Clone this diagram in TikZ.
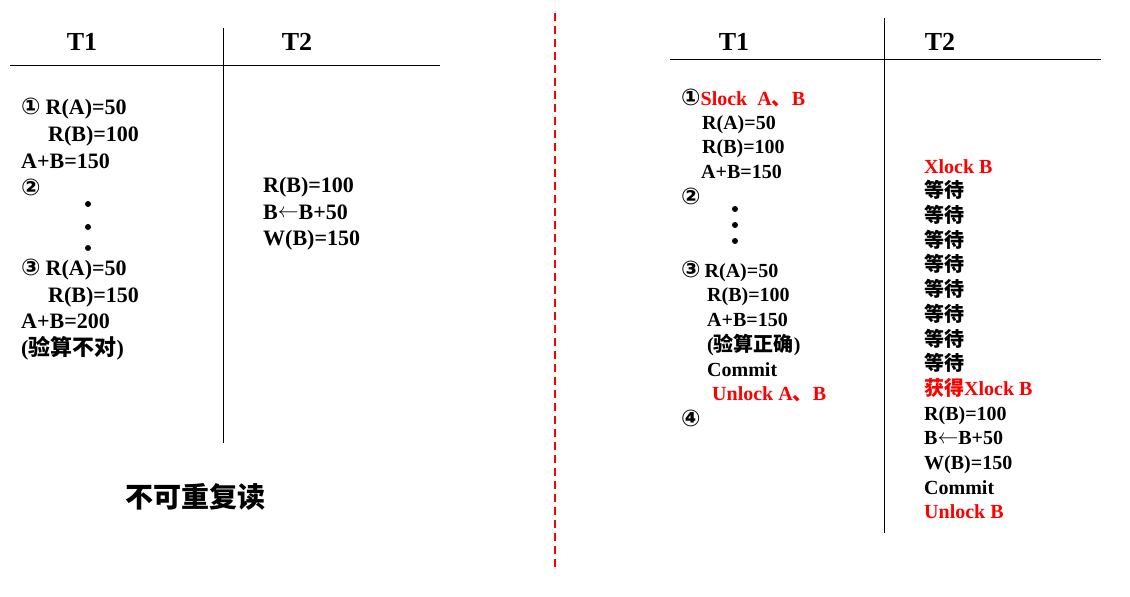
\documentclass[tikz,border=0pt]{standalone}
\usepackage{fontspec}
\setmainfont{Liberation Serif}
\newfontfamily\cjk{Noto Sans CJK SC}
\newfontfamily\sym{DejaVu Sans}
\newcommand{\cnum}[1]{{\sym\fontsize{23}{23}\selectfont #1}}
\newcommand{\larr}{\raisebox{0.1ex}{$\leftarrow$}}
\begin{document}
\begin{tikzpicture}[x=1pt,y=-1pt,
  hd/.style={anchor=base,inner sep=0,font=\fontsize{26}{26}\selectfont\bfseries},
  tl/.style={anchor=base west,inner sep=0,font=\fontsize{22}{22}\selectfont\bfseries},
  tr/.style={anchor=base west,inner sep=0,font=\fontsize{20}{20}\selectfont\bfseries},
  rd/.style={text=red},
  dotc/.style={circle,fill=black,inner sep=0,minimum size=6pt},
  rule/.style={draw=black,line width=0.8pt}]
\useasboundingbox (0,0) rectangle (1130,597);
\fill[white] (0,0) rectangle (1130,597);
% ---------- left table ----------
\node[hd] (lT1) at (82,50) {T1};
\node[hd] (lT2) at (297,50) {T2};
\coordinate (lh1) at (10,65); \coordinate (lh2) at (440,65);
\coordinate (lv1) at (223,28); \coordinate (lv2) at (223,443);
\draw[rule] (lh1) -- (lh2);
\draw[rule] (lv1) -- (lv2);
\node[tl] (l1) at (21,114) {\cnum{①}\hspace{5pt}R(A)=50};
\node[tl] (l2) at (48,141) {R(B)=100};
\node[tl] (l3) at (21,168) {A+B=150};
\node[tl] (l4) at (21,195) {\cnum{②}};
\node[dotc] (ld1) at (88,204) {};
\node[dotc] (ld2) at (88,227) {};
\node[dotc] (ld3) at (88,248) {};
\node[tl] (l5) at (21,275) {\cnum{③}\hspace{5pt}R(A)=50};
\node[tl] (l6) at (48,302) {R(B)=150};
\node[tl] (l7) at (21,328) {A+B=200};
\node[tl] (l8) at (21,355) {({\cjk 验算不对})};
\node[tl] (m1) at (263,192) {R(B)=100};
\node[tl] (m2) at (263,219) {B\larr B+50};
\node[tl] (m3) at (263,245) {W(B)=150};
\node[anchor=center,inner sep=0,font=\fontsize{28}{28}\selectfont\bfseries\cjk] (cap) at (195,497) {不可重复读};
% ---------- separator ----------
\coordinate (s1) at (555,13); \coordinate (s2) at (555,572);
\draw[red,line width=1.2pt,dash pattern=on 8pt off 5pt] (s1) -- (s2);
% ---------- right table ----------
\node[hd] (rT1) at (734,50) {T1};
\node[hd] (rT2) at (940,50) {T2};
\coordinate (rh1) at (670,59); \coordinate (rh2) at (1101,59);
\coordinate (rv1) at (884,18); \coordinate (rv2) at (884,533);
\draw[rule] (rh1) -- (rh2);
\draw[rule] (rv1) -- (rv2);
\node[tr] (a1) at (681,105) {\cnum{①}\textcolor{red}{Slock\ \ A{\cjk 、}B}};
\node[tr] (a2) at (702,129) {R(A)=50};
\node[tr] (a3) at (702,153) {R(B)=100};
\node[tr] (a4) at (701,178) {A+B=150};
\node[tr] (a5) at (681,204) {\cnum{②}};
\node[dotc] (ad1) at (735,209) {};
\node[dotc] (ad2) at (735,225) {};
\node[dotc] (ad3) at (735,241) {};
\node[tr] (a6) at (681,277) {\cnum{③}\hspace{4pt}R(A)=50};
\node[tr] (a7) at (707,301) {R(B)=100};
\node[tr] (a8) at (707,326) {A+B=150};
\node[tr] (a9) at (707,351) {({\cjk 验算正确})};
\node[tr] (a10) at (707,376) {Commit};
\node[tr,rd] (a11) at (712,400) {Unlock A{\cjk 、}B};
\node[tr] (a12) at (681,426) {\cnum{④}};
\node[tr,rd] (b1) at (924,173) {Xlock B};
\foreach \i/\y in {2/197,3/222,4/247,5/271,6/296,7/321,8/346,9/370}
  \node[tr] (b\i) at (924,\y) {{\cjk 等待}};
\node[tr,rd] (b10) at (924,395) {{\cjk 获得}Xlock B};
\node[tr] (b11) at (924,420) {R(B)=100};
\node[tr] (b12) at (924,444) {B\larr B+50};
\node[tr] (b13) at (924,469) {W(B)=150};
\node[tr] (b14) at (924,494) {Commit};
\node[tr,rd] (b15) at (924,518) {Unlock B};
\end{tikzpicture}
\end{document}
